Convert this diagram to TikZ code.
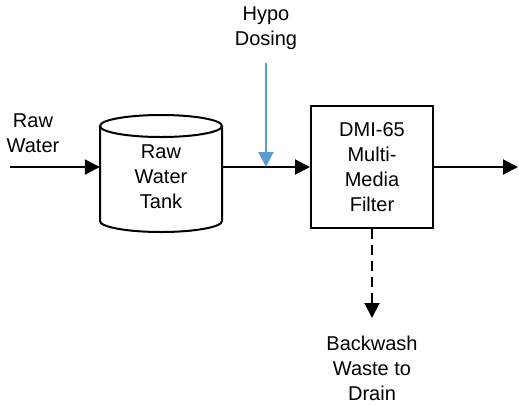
\documentclass[tikz,border=0pt]{standalone}
\usepackage{fontspec}
\setmainfont{Liberation Sans}
\usetikzlibrary{arrows.meta}
\definecolor{dosingblue}{RGB}{91,155,213}
\tikzset{
  flow/.style={line width=2pt,-{Triangle[length=15pt,width=15pt]}},
  dosing/.style={flow,draw=dosingblue,line width=1.8pt},
  waste/.style={flow,dash pattern=on 10pt off 6pt},
  lbl/.style={align=center,font=\fontsize{20}{25}\selectfont},
  unit/.style={draw,line width=2pt,minimum width=122pt,minimum height=122pt,lbl},
}
\begin{document}
\begin{tikzpicture}[x=1pt,y=-1pt]
  \useasboundingbox (0,0) rectangle (519,405);

  % raw water tank
  \node[minimum width=122pt,minimum height=106pt] (tank) at (161,167) {};
  \draw[line width=2pt] (100,126) -- (100,221)
      arc[start angle=180,end angle=0,x radius=61,y radius=11] -- (222,126);
  \draw[line width=2pt] (161,126) ellipse [x radius=61,y radius=11];
  \node[lbl] (tanktext) at (161,177) {Raw\\Water\\Tank};

  % filter
  \node[unit] (filter) at (372,167) {DMI-65\\Multi-\\Media\\Filter};

  % labels
  \node[lbl] (rawlbl) at (33,133) {Raw\\Water};
  \node[lbl] (dosinglbl) at (266,28) {Hypo\\Dosing};
  \node[lbl] (drainlbl) at (372,368) {Backwash\\Waste to\\Drain};

  \coordinate (rawin) at (10,167);
  \coordinate (dose) at (266,63);
  \coordinate (out) at (518,167);
  \coordinate (drain) at (372,318);

  % flows
  \draw[flow] (rawin) -- (rawin -| tank.west);
  \draw[flow] (tank.east) -- (filter.west);
  \draw[dosing] (dose) -- (dose |- filter.west);
  \draw[flow] (filter.east) -- (out);
  \draw[waste] (filter.south) -- (drain);
\end{tikzpicture}
\end{document}
